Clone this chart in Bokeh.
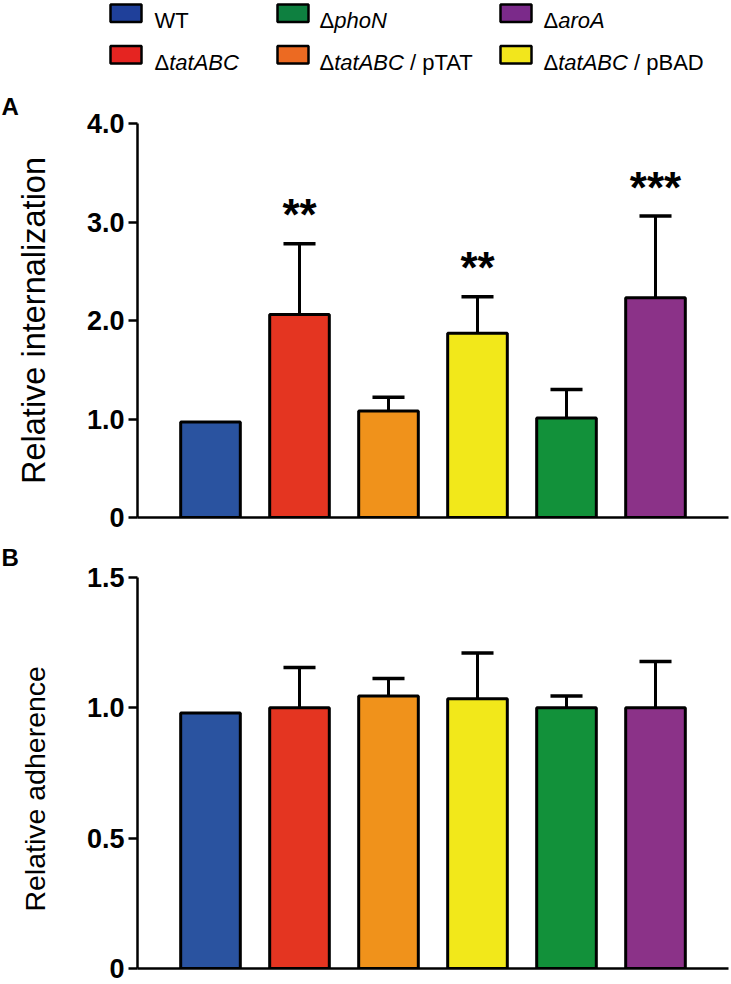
from bokeh.plotting import figure
from bokeh.layouts import column
from bokeh.models import Range1d, FixedTicker
from bokeh.core.properties import value
from bokeh.embed import file_html
from bokeh.resources import INLINE

# ---------------- data ----------------
strains = ["WT", "ΔtatABC", "ΔtatABC / pTAT", "ΔtatABC / pBAD", "ΔphoN", "ΔaroA"]
internalization = [0.97, 2.06, 1.08, 1.87, 1.01, 2.23]
internalization_err = [0.0, 0.72, 0.14, 0.37, 0.29, 0.83]
significance = ["", "**", "", "**", "", "***"]
adherence = [0.98, 1.0, 1.045, 1.035, 1.0, 1.0]
adherence_err = [0.0, 0.155, 0.068, 0.175, 0.045, 0.178]
ticks_a = [0, 1, 2, 3, 4]
ticks_b = [0, 0.5, 1.0, 1.5]
legend_order = ["WT", "ΔphoN", "ΔaroA", "ΔtatABC", "ΔtatABC / pTAT", "ΔtatABC / pBAD"]

# ---------------- style / layout (page pixels) ----------------
bar_colors = ["#2A53A0", "#E43521", "#F0921B", "#F2E81A", "#12913A", "#8B3288"]
legend_colors = {"WT": "#1F409A", "ΔphoN": "#0E8040", "ΔaroA": "#7B2A8A",
                 "ΔtatABC": "#E52421", "ΔtatABC / pTAT": "#EC6A22", "ΔtatABC / pBAD": "#F2E61C"}
FONT = "Liberation Sans"
W = 731
FRAME_LEFT = 137
FRAME_W = 591
BAR0_PX = 210
BAR_STEP_PX = 89
x_start = -(BAR0_PX - FRAME_LEFT) / BAR_STEP_PX
x_end = x_start + FRAME_W / BAR_STEP_PX
xs = list(range(len(strains)))
NBSP = "\u00a0"


def panel(fig_top, frame_top, frame_h, bottom_border, y_end, ticks, ylabel, ylabel_fs,
          ylabel_standoff, vals, errs, letter, letter_standoff, sig=None):
    p = figure(frame_width=FRAME_W, frame_height=frame_h,
               x_range=Range1d(x_start, x_end), y_range=Range1d(0, y_end),
               min_border_left=FRAME_LEFT, min_border_right=W - FRAME_LEFT - FRAME_W,
               min_border_top=frame_top - fig_top, min_border_bottom=bottom_border,
               output_backend="svg", toolbar_location=None, frame_align=False)
    p.grid.visible = False
    p.outline_line_color = None
    p.background_fill_color = "white"
    p.border_fill_color = "white"

    # error bars (upper only)
    ex = [x for x, e in zip(xs, errs) if e > 0]
    ey0 = [v for v, e in zip(vals, errs) if e > 0]
    ey1 = [v + e for v, e in zip(vals, errs) if e > 0]
    cap = 0.18
    p.segment(x0=ex, y0=ey0, x1=ex, y1=ey1, line_color="black", line_width=3)
    p.segment(x0=[x - cap for x in ex], y0=ey1, x1=[x + cap for x in ex], y1=ey1,
              line_color="black", line_width=3.5)

    p.vbar(x=xs, top=vals, width=0.67, fill_color=bar_colors, line_color="black", line_width=3)

    if sig:
        sx = [x for x, s in zip(xs, sig) if s]
        sy = [v + e for v, e, s in zip(vals, errs, sig) if s]
        st = [s for s in sig if s]
        p.text(x=sx, y=sy, text=st, text_align="center", text_baseline="alphabetic",
               y_offset=-29, text_font=value(FONT), text_font_style="bold",
               text_font_size="44px", text_color="black")

    ya = p.yaxis[0]
    ya.ticker = FixedTicker(ticks=ticks)
    ya.major_label_overrides = {t: ("0" if t == 0 else f"{t:.1f}") for t in ticks}
    ya.major_label_text_font = FONT
    ya.major_label_text_font_style = "bold"
    ya.major_label_text_font_size = "27px"
    ya.major_label_text_color = "black"
    ya.major_label_standoff = 4
    ya.major_tick_out = 9
    ya.major_tick_in = 0
    ya.minor_tick_line_color = None
    ya.major_tick_line_width = 2.5
    ya.axis_line_width = 2.5
    ya.axis_line_color = "black"
    ya.major_tick_line_color = "black"
    ya.axis_label = ylabel
    ya.axis_label_text_font = FONT
    ya.axis_label_text_font_style = "normal"
    ya.axis_label_text_font_size = f"{ylabel_fs}px"
    ya.axis_label_text_color = "black"
    ya.axis_label_standoff = ylabel_standoff

    xa = p.xaxis[0]
    xa.ticker = FixedTicker(ticks=[])
    xa.major_label_text_font_size = "0px"
    xa.major_tick_line_color = None
    xa.minor_tick_line_color = None
    xa.axis_line_width = 2.5
    xa.axis_line_color = "black"

    # panel letter
    p.title.text = letter
    p.title.align = "left"
    p.title.offset = 1 - FRAME_LEFT
    p.title.standoff = letter_standoff
    p.title.text_font = FONT
    p.title.text_font_style = "bold"
    p.title.text_font_size = "24px"
    p.title.text_color = "black"
    return p


# ---------------- legend ----------------
LEG_H = 83
leg = figure(frame_width=W, frame_height=LEG_H,
             x_range=Range1d(0, W), y_range=Range1d(LEG_H, 0),
             x_axis_type=None, y_axis_type=None, min_border=0,
             min_border_left=0, min_border_right=0, min_border_top=0, min_border_bottom=0,
             output_backend="svg", toolbar_location=None, frame_align=False)
leg.grid.visible = False
leg.outline_line_color = None

ADV = {'W': 944, 'T': 611, 'Δ': 668, 'p': 556, 'h': 556, 'o': 556, 'N': 722, 'a': 556,
       'r': 333, 'A': 667, 't': 278, 'B': 667, 'C': 722, ' ': 278, '/': 278, 'D': 722}
LFS = 22
sw_left = [110, 277, 500]
txt_left = [154, 319, 543]
sw_top = [4, 45.5]
sw_h = 17.5
base = [19.5, 62]


def pieces(name):
    if not name.startswith("Δ"):
        return [(name, "normal")]
    rest = name[1:]
    if " / " in rest:
        g, pl = rest.split(" / ")
        return [("Δ", "normal"), (g, "italic"), (" ", None), ("/ " + pl, "normal")]
    return [("Δ", "normal"), (rest, "italic")]


qx0, qx1, qt, qb, qc = [], [], [], [], []
tx = {"normal": [], "italic": []}
ty = {"normal": [], "italic": []}
tt = {"normal": [], "italic": []}
for k, name in enumerate(legend_order):
    r, c = divmod(k, 3)
    qx0.append(sw_left[c]); qx1.append(sw_left[c] + 31)
    qt.append(sw_top[r]); qb.append(sw_top[r] + sw_h)
    qc.append(legend_colors[name])
    x = txt_left[c]
    for s, style in pieces(name):
        if style:
            tx[style].append(x); ty[style].append(base[r]); tt[style].append(s)
        x += sum(ADV[ch] for ch in s) / 1000 * LFS

leg.quad(left=qx0, right=qx1, top=qt, bottom=qb, fill_color=qc, line_color="black", line_width=2.5)
for style in ("normal", "italic"):
    leg.text(x=tx[style], y=ty[style], text=tt[style], text_font=value(FONT),
             text_font_style=style, text_font_size=f"{LFS}px", text_baseline="alphabetic",
             text_color="black")

# ---------------- panels ----------------
# A: fig 83..532, frame 123..517 ; B: fig 532..984, frame 577..968
pa = panel(83, 123, 394, 15, 4.0, ticks_a, "Relative internalization", 32.5, 32,
           internalization, internalization_err, "A", 7, significance)
pb = panel(532, 577, 391, 16, 1.5, ticks_b, "Relative adherence" + NBSP * 4, 28.5, 33,
           adherence, adherence_err, "B", 13)

layout = column(leg, pa, pb, spacing=0)

open("out.html", "w").write(file_html(layout, INLINE))
